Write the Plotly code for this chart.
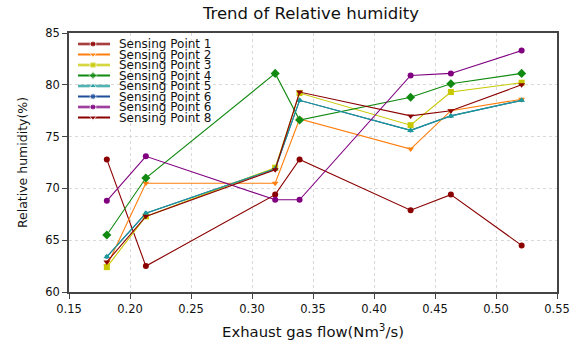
import plotly.graph_objects as go

x_flow = [0.181, 0.213, 0.319, 0.339, 0.430, 0.463, 0.521]

names = ["Sensing Point 1", "Sensing Point 2", "Sensing Point 3", "Sensing Point 4",
         "Sensing Point 5", "Sensing Point 6", "Sensing Point 6", "Sensing Point 8"]

sp1 = [72.8, 62.5, 69.4, 72.8, 67.9, 69.4, 64.5]
sp2 = [62.5, 70.5, 70.5, 76.7, 73.8, 77.5, 78.6]
sp3 = [62.4, 67.3, 72.0, 79.2, 76.1, 79.3, 80.2]
sp4 = [65.5, 71.0, 81.1, 76.6, 78.8, 80.1, 81.1]
sp5 = [63.4, 67.6, 71.9, 78.5, 75.6, 77.0, 78.5]
sp6 = [63.4, 67.6, 71.9, 78.5, 75.6, 77.0, 78.5]
sp7 = [68.8, 73.1, 68.9, 68.9, 80.9, 81.1, 83.3]
sp8 = [62.9, 67.3, 71.8, 79.3, 77.0, 77.5, 80.0]

series = [sp1, sp2, sp3, sp4, sp5, sp6, sp7, sp8]
colors = ["#8B0000", "#FF7F0E", "#C8C800", "#108A10", "#1A9A9A", "#1F4E9A", "#800080", "#8B0000"]
symbols = ["circle", "triangle-down", "square", "diamond", "triangle-up", "circle", "circle", "triangle-down"]

x_ticks = [0.15, 0.20, 0.25, 0.30, 0.35, 0.40, 0.45, 0.50, 0.55]
y_ticks = [60, 65, 70, 75, 80, 85]

FONT = "DejaVu Sans"
W, H = 576, 340
L, R, T, B = 69, 19, 33, 48
pw, ph = W - L - R, H - T - B

fig = go.Figure()

# draw order: blue series first (hidden beneath the others, as in the reference)
order = [5, 0, 1, 2, 3, 4, 6, 7]
for i in order:
    sz = 7 if symbols[i] == "diamond" else 6
    if i == 5:
        sz = 4
    fig.add_trace(go.Scatter(
        x=x_flow, y=series[i], mode="lines+markers", name=names[i],
        line=dict(color=colors[i], width=1.1),
        marker=dict(color=colors[i], symbol=symbols[i], size=sz),
        showlegend=False,
    ))

# manual compact legend on an overlay axis (plot-fraction coordinates)
row0, step = 44, 10.5
for k in range(len(names)):
    py = row0 + k * step
    yy = (H - B - py) / ph
    x0 = (78 - L) / pw
    x1 = (110 - L) / pw
    xm = (93 - L) / pw
    fig.add_trace(go.Scatter(
        x=[x0, x1], y=[yy, yy], mode="lines", xaxis="x2", yaxis="y2",
        line=dict(color=colors[k], width=3), opacity=0.5, showlegend=False, hoverinfo="skip"))
    fig.add_trace(go.Scatter(
        x=[x0, xm, x1], y=[yy, yy, yy], mode="lines+markers", xaxis="x2", yaxis="y2",
        line=dict(color=colors[k], width=1),
        marker=dict(color=colors[k], symbol=symbols[k], size=[0, 6, 0]),
        showlegend=False, hoverinfo="skip"))
    fig.add_annotation(x=(117 - L) / pw, y=yy, xref="x2", yref="y2", text=names[k],
                       showarrow=False, xanchor="left", yanchor="middle",
                       font=dict(family=FONT, size=12, color="#111"))

axis_common = dict(showline=True, linecolor="#444", linewidth=1.5, mirror=True,
                   ticks="outside", ticklen=5, tickcolor="#444", tickwidth=1.2,
                   showgrid=True, gridcolor="#d9d9d9", griddash="dot", gridwidth=1,
                   zeroline=False, automargin=False,
                   tickfont=dict(family=FONT, size=11.5, color="#111"))

fig.update_layout(
    width=W, height=H, margin=dict(l=L, r=R, t=T, b=B, autoexpand=False),
    paper_bgcolor="white", plot_bgcolor="white",
    title=dict(text="Trend of Relative humidity", x=311 / W, xanchor="center",
               y=1 - 13.5 / H, yanchor="middle", automargin=False,
               font=dict(family=FONT, size=16.5, color="#111")),
    xaxis=dict(range=[0.15, 0.55], tickvals=x_ticks, tickformat=".2f",
               title=dict(text="Exhaust gas flow(Nm<sup>3</sup>/s)",
                          font=dict(family=FONT, size=14.8, color="#111")),
               **axis_common),
    yaxis=dict(range=[60, 85], tickvals=y_ticks,
               title=dict(text="Relative humidity(%)",
                          font=dict(family=FONT, size=12.5, color="#111")),
               **axis_common),
    xaxis2=dict(range=[0, 1], overlaying="x", visible=False, fixedrange=True),
    yaxis2=dict(range=[0, 1], overlaying="y", visible=False, fixedrange=True),
    showlegend=False,
)

fig.write_html("out.html")
